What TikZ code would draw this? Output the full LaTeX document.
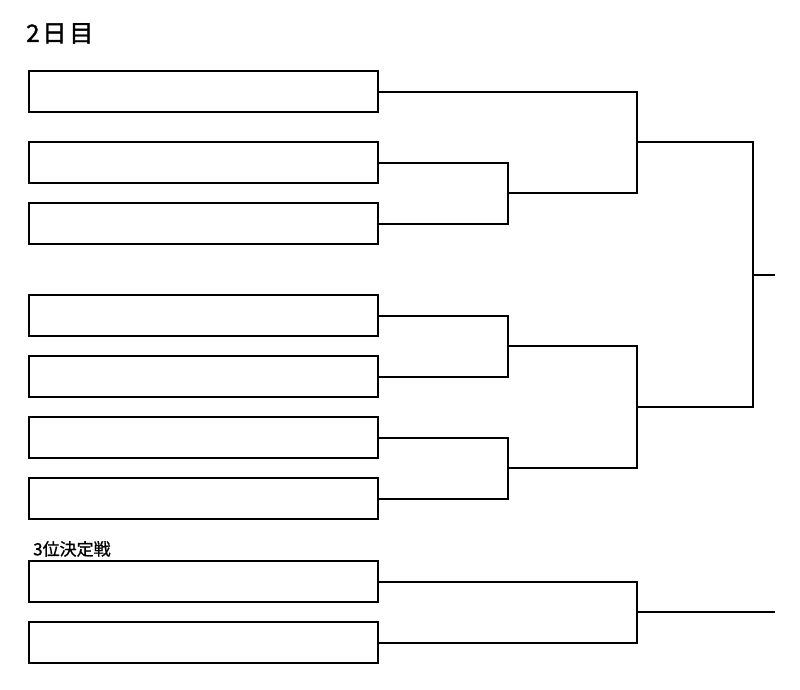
\documentclass[tikz,border=0pt]{standalone}
\usepackage{fontspec}
\newfontfamily\jpfont{Noto Sans CJK JP}
\usetikzlibrary{positioning}
\tikzset{
    teambox/.style={
        draw=black,
        fill=white,
        line width=2pt,
        minimum width=349pt,
        minimum height=41pt,
        inner sep=0pt
    },
    bracketline/.style={
        draw=black,
        line width=2pt
    },
    daytitle/.style={
        anchor=north west,
        inner sep=0pt,
        font=\jpfont\fontsize{24}{24}\selectfont\addfontfeature{LetterSpace=12,FakeBold=1.5}
    },
    matchtitle/.style={
        anchor=south west,
        inner sep=0pt,
        font=\jpfont\fontsize{17}{17}\selectfont\addfontfeature{FakeBold=1}
    }
}

\begin{document}
\begin{tikzpicture}[x=1pt,y=-1pt]
    \useasboundingbox (0,0) rectangle (800,689);

    \node[daytitle] (day) at (26,23) {2日目};
    \node[matchtitle] (third) at (33,557) {3位決定戦};

    \node[teambox] (team1) at (203.5,91.5) {};
    \node[teambox] (team2) at (203.5,162.5) {};
    \node[teambox] (team3) at (203.5,223.5) {};
    \node[teambox] (team4) at (203.5,315.5) {};
    \node[teambox] (team5) at (203.5,376.5) {};
    \node[teambox] (team6) at (203.5,437.5) {};
    \node[teambox] (team7) at (203.5,498.5) {};
    \node[teambox] (team8) at (203.5,581.5) {};
    \node[teambox] (team9) at (203.5,642.5) {};

    % junctions
    \coordinate (round1) at (508,193);
    \coordinate (round2) at (508,346);
    \coordinate (round3) at (508,468);
    \coordinate (semi1) at (637,142);
    \coordinate (semi2) at (637,407);
    \coordinate (final) at (753,274.5);
    \coordinate (winner) at (775,274.5);
    \coordinate (thirdplace) at (637,612);
    \coordinate (thirdwinner) at (775,612);

    \draw[bracketline] (team2.east) -| (round1);
    \draw[bracketline] (team3.east) -| (round1);
    \draw[bracketline] (team4.east) -| (round2);
    \draw[bracketline] (team5.east) -| (round2);
    \draw[bracketline] (team6.east) -| (round3);
    \draw[bracketline] (team7.east) -| (round3);

    \draw[bracketline] (team1.east) -| (semi1);
    \draw[bracketline] (round1) -| (semi1);
    \draw[bracketline] (round2) -| (semi2);
    \draw[bracketline] (round3) -| (semi2);

    \draw[bracketline] (semi1) -| (final);
    \draw[bracketline] (semi2) -| (final);
    \draw[bracketline] (final) -- (winner);

    \draw[bracketline] (team8.east) -| (thirdplace);
    \draw[bracketline] (team9.east) -| (thirdplace);
    \draw[bracketline] (thirdplace) -- (thirdwinner);
\end{tikzpicture}
\end{document}
